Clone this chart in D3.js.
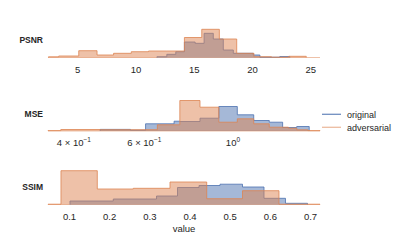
<!DOCTYPE html>
<html>
<head>
<meta charset="utf-8">
<script src="https://cdn.jsdelivr.net/npm/d3@7"></script>
<style>
  body { margin: 0; background: #fff; }
  text { font-family: "Liberation Sans", Arial, sans-serif; fill: #262626; }
</style>
</head>
<body>
<svg id="chart" width="398" height="243"></svg>
<script>
(function () {
  // Bin edges and bar heights, per metric and series.
  const psnrTicks = [5, 10, 15, 20, 25];
  const psnrOriginalEdges = [11.8, 12.65, 13.42, 14.16, 15.08, 15.85, 16.64, 17.5, 18.36, 20.07, 20.64, 22.35, 23.21];
  const psnrOriginalHeights = [0.8, 3.2, 5.8, 15.5, 14.2, 24.2, 18.5, 7.5, 4.2, 2.5, 0.3, 1.0];
  const psnrAdversarialEdges = [2.49, 3.37, 5.09, 6.66, 8.08, 9.6, 11.08, 12.59, 14.16, 15.65, 17.16, 18.65, 20.13, 21.63, 23.12, 24.62];
  const psnrAdversarialHeights = [0.7, 1.5, 6.8, 2.5, 4.2, 5.8, 6.5, 6.5, 20, 28.2, 18.5, 4.2, 0.8, 0.3, 1.2];

  const mseTicks = [0.4, 0.6, 1.0];
  const mseOriginalEdges = [0.4654, 0.554, 0.6045, 0.7124, 0.7364, 0.827, 0.9219, 1.0253, 1.127, 1.2325, 1.3312, 1.4441, 1.5514];
  const mseOriginalHeights = [1.6, 0.8, 7.2, 9.8, 9.5, 12.8, 24.5, 16.2, 10.5, 8.8, 3.5, 4.5];
  const mseAdversarialEdges = [0.3446, 0.371, 0.4654, 0.554, 0.647, 0.7364, 0.827, 0.9219, 1.0253, 1.127, 1.2325, 1.376, 1.4441, 1.5397, 1.6509];
  const mseAdversarialHeights = [0.4, 1.5, 1.3, 1.3, 6.2, 30.5, 23.8, 8.8, 12.2, 7.2, 3.8, 2.8, 1.2, 0.4];

  const ssimTicks = [0.1, 0.2, 0.3, 0.4, 0.5, 0.6, 0.7];
  const ssimOriginalEdges = [0.1012, 0.209, 0.3166, 0.3689, 0.4224, 0.4747, 0.5307, 0.5842, 0.6377, 0.6925];
  const ssimOriginalHeights = [3.5, 5.5, 8.5, 17, 19, 20.3, 17.5, 6.2, 1.2];
  const ssimAdversarialEdges = [0.0465, 0.0788, 0.1692, 0.2588, 0.3502, 0.4416, 0.5307, 0.6215, 0.7236];
  const ssimAdversarialHeights = [0.3, 33.8, 15.5, 16.2, 22.5, 5.8, 13.8, 0.3];

  const seriesNames = ["original", "adversarial"];
  const colors = { original: "#4c72b0", adversarial: "#dd8452" };

  const svg = d3.select("#chart");
  const left = 48, right = 320;

  // Format log ticks as "4 × 10^-1".
  function logLabel(text, v) {
    let exp = Math.floor(Math.log10(v) + 1e-9);
    let mant = Math.round(v / Math.pow(10, exp));
    let e = exp < 0 ? "\u2212" + Math.abs(exp) : String(exp);
    if (mant !== 1) text.append("tspan").text(mant + " \u00d7 10");
    else text.append("tspan").text("10");
    text.append("tspan").attr("dy", -4).attr("font-size", "6.5px").text(e);
  }

  let panels = [
    {
      name: "PSNR",
      x: d3.scaleLinear().domain([2.45, 25.8]),
      ticks: psnrTicks,
      original: [psnrOriginalEdges, psnrOriginalHeights],
      adversarial: [psnrAdversarialEdges, psnrAdversarialHeights],
    },
    {
      name: "MSE",
      x: d3.scaleLog().domain([0.3446, 1.6509]),
      ticks: mseTicks,
      log: true,
      original: [mseOriginalEdges, mseOriginalHeights],
      adversarial: [mseAdversarialEdges, mseAdversarialHeights],
    },
    {
      name: "SSIM",
      x: d3.scaleLinear().domain([0.0465, 0.7236]),
      ticks: ssimTicks,
      original: [ssimOriginalEdges, ssimOriginalHeights],
      adversarial: [ssimAdversarialEdges, ssimAdversarialHeights],
    },
  ];

  panels.forEach((p, i) => {
    let base = 57.5 + i * 73.5;
    p.x.range([left, right]);
    let y = d3.scaleLinear().domain([0, 35]).range([base, base - 35]);
    let g = svg.append("g");

    // Baseline along the whole axis.
    g.append("line")
      .attr("x1", left).attr("x2", right)
      .attr("y1", base).attr("y2", base)
      .attr("stroke", colors.adversarial)
      .attr("stroke-opacity", 0.5);

    seriesNames.forEach((s) => {
      let edges = p[s][0], heights = p[s][1];
      let pts = [[edges[0], 0]];
      heights.forEach((h, j) => {
        pts.push([edges[j], h]);
        pts.push([edges[j + 1], h]);
      });
      pts.push([edges[edges.length - 1], 0]);

      let area = d3.area()
        .x((d) => p.x(d[0]))
        .y0(y(0))
        .y1((d) => y(d[1]));
      let line = d3.line()
        .x((d) => p.x(d[0]))
        .y((d) => y(d[1]));

      g.append("path")
        .attr("d", area(pts))
        .attr("fill", colors[s])
        .attr("fill-opacity", 0.5);
      g.append("path")
        .attr("d", line(pts))
        .attr("fill", "none")
        .attr("stroke", colors[s])
        .attr("stroke-opacity", 0.8)
        .attr("stroke-width", 1);
    });

    // Tick labels.
    p.ticks.forEach((t) => {
      let txt = g.append("text")
        .attr("x", p.x(t))
        .attr("y", base + 15)
        .attr("text-anchor", "middle")
        .attr("font-size", "9.5px");
      if (p.log) logLabel(txt, t);
      else txt.text(d3.format("")(t));
    });

    // Row label.
    g.append("text")
      .attr("x", 43)
      .attr("y", base - 14.5)
      .attr("text-anchor", "end")
      .attr("font-size", "8.5px")
      .attr("font-weight", "bold")
      .text(p.name);
  });

  svg.append("text")
    .attr("x", (left + right) / 2)
    .attr("y", 231.5)
    .attr("text-anchor", "middle")
    .attr("font-size", "9.5px")
    .text("value");

  // Legend.
  seriesNames.forEach((s, i) => {
    let ly = 114.3 + i * 13;
    svg.append("line")
      .attr("x1", 322).attr("x2", 341)
      .attr("y1", ly).attr("y2", ly)
      .attr("stroke", colors[s])
      .attr("stroke-opacity", i ? 0.55 : 0.8)
      .attr("stroke-width", 1.3);
    svg.append("text")
      .attr("x", 347)
      .attr("y", ly + 3.3)
      .attr("font-size", "9px")
      .text(s);
  });
})();
</script>
</body>
</html>
